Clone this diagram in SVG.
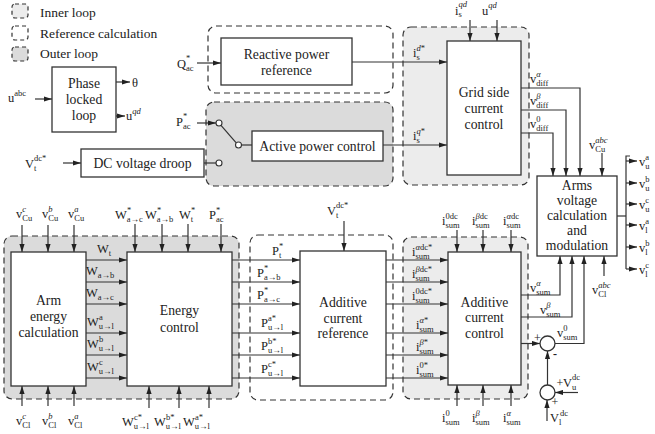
<svg xmlns="http://www.w3.org/2000/svg" width="655" height="434" viewBox="0 0 655 434">
<defs>
<marker id="ah" viewBox="0 0 8 6" refX="8" refY="3" markerWidth="8" markerHeight="6" markerUnits="userSpaceOnUse" orient="auto"><path d="M0,0.4L8,3L0,5.6z" fill="#222"/></marker>
<style>
.bx{fill:#fff;stroke:#333;stroke-width:1.3}
.inner{fill:#ececec;stroke:#333;stroke-width:1.2;stroke-dasharray:6 4}
.outer{fill:#dbdbdb;stroke:#333;stroke-width:1.2;stroke-dasharray:6 4}
.refc{fill:#fff;stroke:#333;stroke-width:1.2;stroke-dasharray:6 4}
.sm{stroke-dasharray:4 3}
.ln{fill:none;stroke:#333;stroke-width:1.2}
.ar{marker-end:url(#ah)}
.sw{fill:#fff;stroke:#333;stroke-width:1.1}
text{font-family:"Liberation Serif","DejaVu Serif",serif;fill:#222}
.bt{font-size:13.7px;text-anchor:middle}
.lg{font-size:13.5px}
.m{font-size:12.5px}
.s{font-size:8.5px}
.it{font-style:italic}
.sg{font-size:12px;text-anchor:middle}
</style>
</defs>
<rect width="655" height="434" fill="#fff"/>

<g id="legend">
<rect class="inner sm" x="12" y="4" width="16" height="14" rx="3"/>
<text class="lg" x="40" y="17">Inner loop</text>
<rect class="refc sm" x="12" y="26" width="16" height="14" rx="3"/>
<text class="lg" x="40" y="37.5">Reference calculation</text>
<rect class="outer sm" x="12" y="47" width="16" height="14" rx="3"/>
<text class="lg" x="40" y="58">Outer loop</text>
</g>

<g id="regions">
<rect class="refc" x="208" y="26" width="185" height="67" rx="8"/>
<rect class="outer" x="206" y="102" width="187" height="84" rx="8"/>
<rect class="inner" x="403" y="27" width="126" height="158" rx="8"/>
<rect class="outer" x="4" y="236" width="235" height="163" rx="8"/>
<rect class="refc" x="250" y="235" width="143" height="165" rx="8"/>
<rect class="inner" x="403" y="237" width="125" height="162" rx="8"/>
</g>

<g id="connectors">
<path class="ln ar" d="M35,99H52"/>
<path class="ln ar" d="M116,82H130"/>
<path class="ln ar" d="M116,116H125"/>
<path class="ln ar" d="M63,163H81"/>
<path class="ln" d="M204,163H216"/>
<path class="ln ar" d="M197,63H221"/>
<path class="ln ar" d="M197,123H216"/>
<path class="ln" d="M221,125.3L236,142.7"/>
<path class="ln" d="M241,145H252"/>
<path class="ln ar" d="M352,62H447"/>
<path class="ln ar" d="M383,145H447"/>
<path class="ln ar" d="M470,20V41"/>
<path class="ln ar" d="M497,20V41"/>
<path class="ln ar" d="M521,88H580V176"/>
<path class="ln ar" d="M521,110H566V176"/>
<path class="ln ar" d="M521,133H553V176"/>
<path class="ln ar" d="M602,153V176"/>
<path class="ln" d="M617,216H626"/>
<path class="ln" d="M630,156H626V269"/>
<path class="ln ar" d="M626,161H637"/>
<path class="ln ar" d="M626,183H637"/>
<path class="ln ar" d="M626,204H637"/>
<path class="ln ar" d="M626,225H637"/>
<path class="ln ar" d="M626,247H637"/>
<path class="ln ar" d="M626,269H637"/>
<path class="ln ar" d="M22,225V252"/>
<path class="ln ar" d="M48,225V252"/>
<path class="ln ar" d="M74,225V252"/>
<path class="ln ar" d="M22,406V386"/>
<path class="ln ar" d="M48,406V386"/>
<path class="ln ar" d="M74,406V386"/>
<path class="ln ar" d="M86,260H127"/>
<path class="ln ar" d="M86,282H127"/>
<path class="ln ar" d="M86,304H127"/>
<path class="ln ar" d="M86,333H127"/>
<path class="ln ar" d="M86,355H127"/>
<path class="ln ar" d="M86,378H127"/>
<path class="ln ar" d="M135,224V252"/>
<path class="ln ar" d="M162,224V252"/>
<path class="ln ar" d="M188,224V252"/>
<path class="ln ar" d="M221,224V252"/>
<path class="ln ar" d="M149,408V386"/>
<path class="ln ar" d="M179,408V386"/>
<path class="ln ar" d="M209,408V386"/>
<path class="ln ar" d="M232,260H300"/>
<path class="ln ar" d="M232,282H300"/>
<path class="ln ar" d="M232,304H300"/>
<path class="ln ar" d="M232,333H300"/>
<path class="ln ar" d="M232,355H300"/>
<path class="ln ar" d="M232,378H300"/>
<path class="ln ar" d="M344,221V251"/>
<path class="ln ar" d="M386,260H448"/>
<path class="ln ar" d="M386,282H448"/>
<path class="ln ar" d="M386,304H448"/>
<path class="ln ar" d="M386,333H448"/>
<path class="ln ar" d="M386,355H448"/>
<path class="ln ar" d="M386,378H448"/>
<path class="ln ar" d="M457,230V252"/>
<path class="ln ar" d="M483,230V252"/>
<path class="ln ar" d="M511,230V252"/>
<path class="ln ar" d="M457,406V385"/>
<path class="ln ar" d="M483,406V385"/>
<path class="ln ar" d="M511,406V385"/>
<path class="ln ar" d="M521,295H560V256"/>
<path class="ln ar" d="M521,317H572V256"/>
<path class="ln ar" d="M521,343.5H540"/>
<path class="ln ar" d="M555,343.5H584V256"/>
<path class="ln ar" d="M604,276V256"/>
<path class="ln ar" d="M547.5,385V351"/>
<path class="ln ar" d="M578,392.5H555"/>
<path class="ln ar" d="M547,421V400"/>
</g>

<g id="switch">
<circle class="sw" cx="219" cy="123" r="3"/>
<circle class="sw" cx="238.5" cy="145" r="3"/>
<circle class="sw" cx="219" cy="163" r="3"/>
</g>

<g id="pll">
<rect class="bx" x="52" y="67" width="64" height="65"/>
<text class="bt" x="84" y="88">Phase</text>
<text class="bt" x="84" y="104">locked</text>
<text class="bt" x="84" y="120">loop</text>
</g>
<g id="dc-droop">
<rect class="bx" x="81" y="149" width="123" height="28"/>
<text class="bt" x="142.5" y="168">DC voltage droop</text>
</g>
<g id="reactive">
<rect class="bx" x="221" y="38" width="131" height="47"/>
<text class="bt" x="286.5" y="59">Reactive power</text>
<text class="bt" x="286.5" y="75">reference</text>
</g>
<g id="active">
<rect class="bx" x="252" y="131" width="131" height="30"/>
<text class="bt" x="317.5" y="150.5">Active power control</text>
</g>
<g id="grid">
<rect class="bx" x="447" y="41" width="74" height="134"/>
<text class="bt" x="484" y="97">Grid side</text>
<text class="bt" x="484" y="113">current</text>
<text class="bt" x="484" y="129">control</text>
</g>
<g id="arms">
<rect class="bx" x="537" y="176" width="80" height="80"/>
<text class="bt" x="577" y="190">Arms</text>
<text class="bt" x="577" y="205">voltage</text>
<text class="bt" x="577" y="220">calculation</text>
<text class="bt" x="577" y="235">and</text>
<text class="bt" x="577" y="250">modulation</text>
</g>
<g id="arm-energy">
<rect class="bx" x="11" y="252" width="75" height="134"/>
<text class="bt" x="48.5" y="305">Arm</text>
<text class="bt" x="48.5" y="321">energy</text>
<text class="bt" x="48.5" y="337">calculation</text>
</g>
<g id="energy">
<rect class="bx" x="127" y="252" width="105" height="134"/>
<text class="bt" x="179.5" y="315">Energy</text>
<text class="bt" x="179.5" y="332">control</text>
</g>
<g id="add-ref">
<rect class="bx" x="300" y="251" width="86" height="135"/>
<text class="bt" x="343" y="307">Additive</text>
<text class="bt" x="343" y="323">current</text>
<text class="bt" x="343" y="338">reference</text>
</g>
<g id="add-ctrl">
<rect class="bx" x="448" y="252" width="73" height="133"/>
<text class="bt" x="484.5" y="307">Additive</text>
<text class="bt" x="484.5" y="322">current</text>
<text class="bt" x="484.5" y="338">control</text>
</g>
<g id="sum1">
<circle class="bx" cx="547.5" cy="343.5" r="7.5"/>
<text class="sg" x="537.5" y="342">+</text>
<text class="sg" x="555" y="358" font-weight="bold">-</text>
</g>
<g id="sum2">
<circle class="bx" cx="547.5" cy="392.5" r="7.5"/>
<text class="sg" x="560" y="387">+</text>
<text class="sg" x="555" y="406">+</text>
</g>

<g id="labels">
<text class="m" x="8" y="102">u<tspan class="s" dy="-6">abc</tspan></text>
<text class="m" x="132" y="87" font-size="13">θ</text>
<text class="m" x="126" y="120">u<tspan class="s it" dy="-6">qd</tspan></text>
<text class="m" x="25" y="168">V<tspan class="s" dy="2.5">t</tspan><tspan class="s" x="34" dy="-9.5">dc*</tspan></text>
<text class="m" x="177" y="68">Q<tspan class="s" dy="2.5">ac</tspan><tspan class="s" x="186" dy="-9.5">*</tspan></text>
<text class="m" x="176" y="126">P<tspan class="s" dy="2.5">ac</tspan><tspan class="s" x="183" dy="-9.5">*</tspan></text>

<text class="m" x="455" y="15">i<tspan class="s" dy="2">s</tspan><tspan class="s it" x="458.5" dy="-10">qd</tspan></text>
<text class="m" x="482" y="15">u<tspan class="s it" dy="-7">qd</tspan></text>
<text class="m" x="413" y="57">i<tspan class="s" dy="2.5">s</tspan><tspan class="s" x="416.5" dy="-8.5"><tspan class="it">d</tspan>*</tspan></text>
<text class="m" x="413" y="140">i<tspan class="s" dy="2.5">s</tspan><tspan class="s" x="416.5" dy="-8.5"><tspan class="it">q</tspan>*</tspan></text>
<text class="m" x="530" y="83">v<tspan class="s" dy="2.5">diff</tspan><tspan class="s it" x="536.3" dy="-8.5">α</tspan></text>
<text class="m" x="530" y="105">v<tspan class="s" dy="2.5">diff</tspan><tspan class="s it" x="536.3" dy="-8.5">β</tspan></text>
<text class="m" x="530" y="128">v<tspan class="s" dy="2.5">diff</tspan><tspan class="s" x="536.3" dy="-8.5">0</tspan></text>
<text class="m" x="589" y="149">v<tspan class="s" dy="2.5">Cu</tspan><tspan class="s it" x="595.3" dy="-8.5">abc</tspan></text>

<text class="m" x="639" y="166">v<tspan class="s" dy="2.5">u</tspan><tspan class="s" x="645.3" dy="-8.5">a</tspan></text>
<text class="m" x="639" y="188">v<tspan class="s" dy="2.5">u</tspan><tspan class="s" x="645.3" dy="-8.5">b</tspan></text>
<text class="m" x="639" y="209">v<tspan class="s" dy="2.5">u</tspan><tspan class="s" x="645.3" dy="-8.5">c</tspan></text>
<text class="m" x="639" y="230">v<tspan class="s" dy="2.5">l</tspan><tspan class="s" x="645.3" dy="-8.5">a</tspan></text>
<text class="m" x="639" y="252">v<tspan class="s" dy="2.5">l</tspan><tspan class="s" x="645.3" dy="-8.5">b</tspan></text>
<text class="m" x="639" y="274">v<tspan class="s" dy="2.5">l</tspan><tspan class="s" x="645.3" dy="-8.5">c</tspan></text>

<text class="m" x="16" y="218">v<tspan class="s" dy="2.5">Cu</tspan><tspan class="s it" x="22.3" dy="-8.5">c</tspan></text>
<text class="m" x="42" y="218">v<tspan class="s" dy="2.5">Cu</tspan><tspan class="s it" x="48.3" dy="-8.5">b</tspan></text>
<text class="m" x="68" y="218">v<tspan class="s" dy="2.5">Cu</tspan><tspan class="s it" x="74.3" dy="-8.5">a</tspan></text>
<text class="m" x="16" y="425">v<tspan class="s" dy="2.5">Cl</tspan><tspan class="s it" x="22.3" dy="-8.5">c</tspan></text>
<text class="m" x="42" y="425">v<tspan class="s" dy="2.5">Cl</tspan><tspan class="s it" x="48.3" dy="-8.5">b</tspan></text>
<text class="m" x="68" y="425">v<tspan class="s" dy="2.5">Cl</tspan><tspan class="s it" x="74.3" dy="-8.5">a</tspan></text>

<text class="m" x="97" y="253">W<tspan class="s" dy="2.5">t</tspan></text>
<text class="m" x="86" y="275">W<tspan class="s" dy="2.5">a→b</tspan></text>
<text class="m" x="86" y="297">W<tspan class="s" dy="2.5">a→c</tspan></text>
<text class="m" x="87" y="326">W<tspan class="s" dy="2.5">u→l</tspan><tspan class="s" x="99" dy="-8.5">a</tspan></text>
<text class="m" x="87" y="348">W<tspan class="s" dy="2.5">u→l</tspan><tspan class="s" x="99" dy="-8.5">b</tspan></text>
<text class="m" x="87" y="371">W<tspan class="s" dy="2.5">u→l</tspan><tspan class="s" x="99" dy="-8.5">c</tspan></text>

<text class="m" x="115" y="219">W<tspan class="s" dy="2.5">a→c</tspan><tspan class="s" x="127" dy="-8.5">*</tspan></text>
<text class="m" x="145" y="219">W<tspan class="s" dy="2.5">a→b</tspan><tspan class="s" x="157" dy="-8.5">*</tspan></text>
<text class="m" x="179" y="219">W<tspan class="s" dy="2.5">t</tspan><tspan class="s" x="191" dy="-8.5">*</tspan></text>
<text class="m" x="209" y="219">P<tspan class="s" dy="2.5">ac</tspan><tspan class="s" x="216" dy="-8.5">*</tspan></text>

<text class="m" x="122" y="426">W<tspan class="s" dy="2.5">u→l</tspan><tspan class="s" x="134" dy="-8.5">c*</tspan></text>
<text class="m" x="154" y="426">W<tspan class="s" dy="2.5">u→l</tspan><tspan class="s" x="166" dy="-8.5">b*</tspan></text>
<text class="m" x="183" y="426">W<tspan class="s" dy="2.5">u→l</tspan><tspan class="s" x="195" dy="-8.5">a*</tspan></text>

<text class="m" x="327" y="215">V<tspan class="s" dy="2.5">t</tspan><tspan class="s" x="336" dy="-9.5">dc*</tspan></text>
<text class="m" x="272" y="255">P<tspan class="s" dy="2.5">t</tspan><tspan class="s" x="279" dy="-8.5">*</tspan></text>
<text class="m" x="257" y="277">P<tspan class="s" dy="2.5">a→b</tspan><tspan class="s" x="264" dy="-8.5">*</tspan></text>
<text class="m" x="257" y="299">P<tspan class="s" dy="2.5">a→c</tspan><tspan class="s" x="264" dy="-8.5">*</tspan></text>
<text class="m" x="261" y="327">P<tspan class="s" dy="2.5">u→l</tspan><tspan class="s" x="268" dy="-8.5">a*</tspan></text>
<text class="m" x="261" y="350">P<tspan class="s" dy="2.5">u→l</tspan><tspan class="s" x="268" dy="-8.5">b*</tspan></text>
<text class="m" x="261" y="373">P<tspan class="s" dy="2.5">u→l</tspan><tspan class="s" x="268" dy="-8.5">c*</tspan></text>

<text class="m" x="412" y="256">i<tspan class="s" dy="2.5">sum</tspan><tspan class="s" x="415.5" dy="-8.5"><tspan class="it">α</tspan>dc*</tspan></text>
<text class="m" x="412" y="278">i<tspan class="s" dy="2.5">sum</tspan><tspan class="s" x="415.5" dy="-8.5"><tspan class="it">β</tspan>dc*</tspan></text>
<text class="m" x="412" y="300">i<tspan class="s" dy="2.5">sum</tspan><tspan class="s" x="415.5" dy="-8.5">0dc*</tspan></text>
<text class="m" x="416" y="329">i<tspan class="s" dy="2.5">sum</tspan><tspan class="s" x="419.5" dy="-8.5"><tspan class="it">α</tspan>*</tspan></text>
<text class="m" x="416" y="351">i<tspan class="s" dy="2.5">sum</tspan><tspan class="s" x="419.5" dy="-8.5"><tspan class="it">β</tspan>*</tspan></text>
<text class="m" x="416" y="374">i<tspan class="s" dy="2.5">sum</tspan><tspan class="s" x="419.5" dy="-8.5">0*</tspan></text>

<text class="m" x="442" y="225">i<tspan class="s" dy="2.5">sum</tspan><tspan class="s" x="445.5" dy="-8.5">0dc</tspan></text>
<text class="m" x="472" y="225">i<tspan class="s" dy="2.5">sum</tspan><tspan class="s" x="475.5" dy="-8.5"><tspan class="it">β</tspan>dc</tspan></text>
<text class="m" x="503" y="225">i<tspan class="s" dy="2.5">sum</tspan><tspan class="s" x="506.5" dy="-8.5"><tspan class="it">α</tspan>dc</tspan></text>
<text class="m" x="442" y="422">i<tspan class="s" dy="2.5">sum</tspan><tspan class="s" x="445.5" dy="-8.5">0</tspan></text>
<text class="m" x="472" y="422">i<tspan class="s" dy="2.5">sum</tspan><tspan class="s it" x="475.5" dy="-8.5">β</tspan></text>
<text class="m" x="503" y="422">i<tspan class="s" dy="2.5">sum</tspan><tspan class="s it" x="506.5" dy="-8.5">α</tspan></text>

<text class="m" x="530" y="292">v<tspan class="s" dy="2.5">sum</tspan><tspan class="s it" x="536.3" dy="-8.5">α</tspan></text>
<text class="m" x="540" y="314">v<tspan class="s" dy="2.5">sum</tspan><tspan class="s it" x="546.3" dy="-8.5">β</tspan></text>
<text class="m" x="557" y="337">v<tspan class="s" dy="2.5">sum</tspan><tspan class="s" x="563.3" dy="-8.5">0</tspan></text>
<text class="m" x="592" y="294">v<tspan class="s" dy="2.5">Cl</tspan><tspan class="s it" x="598.3" dy="-8.5">abc</tspan></text>
<text class="m" x="563" y="387">V<tspan class="s" dy="2.5">u</tspan><tspan class="s" x="572" dy="-9.5">dc</tspan></text>
<text class="m" x="550" y="422">V<tspan class="s" dy="2.5">l</tspan><tspan class="s" x="560" dy="-9">dc</tspan></text>
</g>
</svg>
